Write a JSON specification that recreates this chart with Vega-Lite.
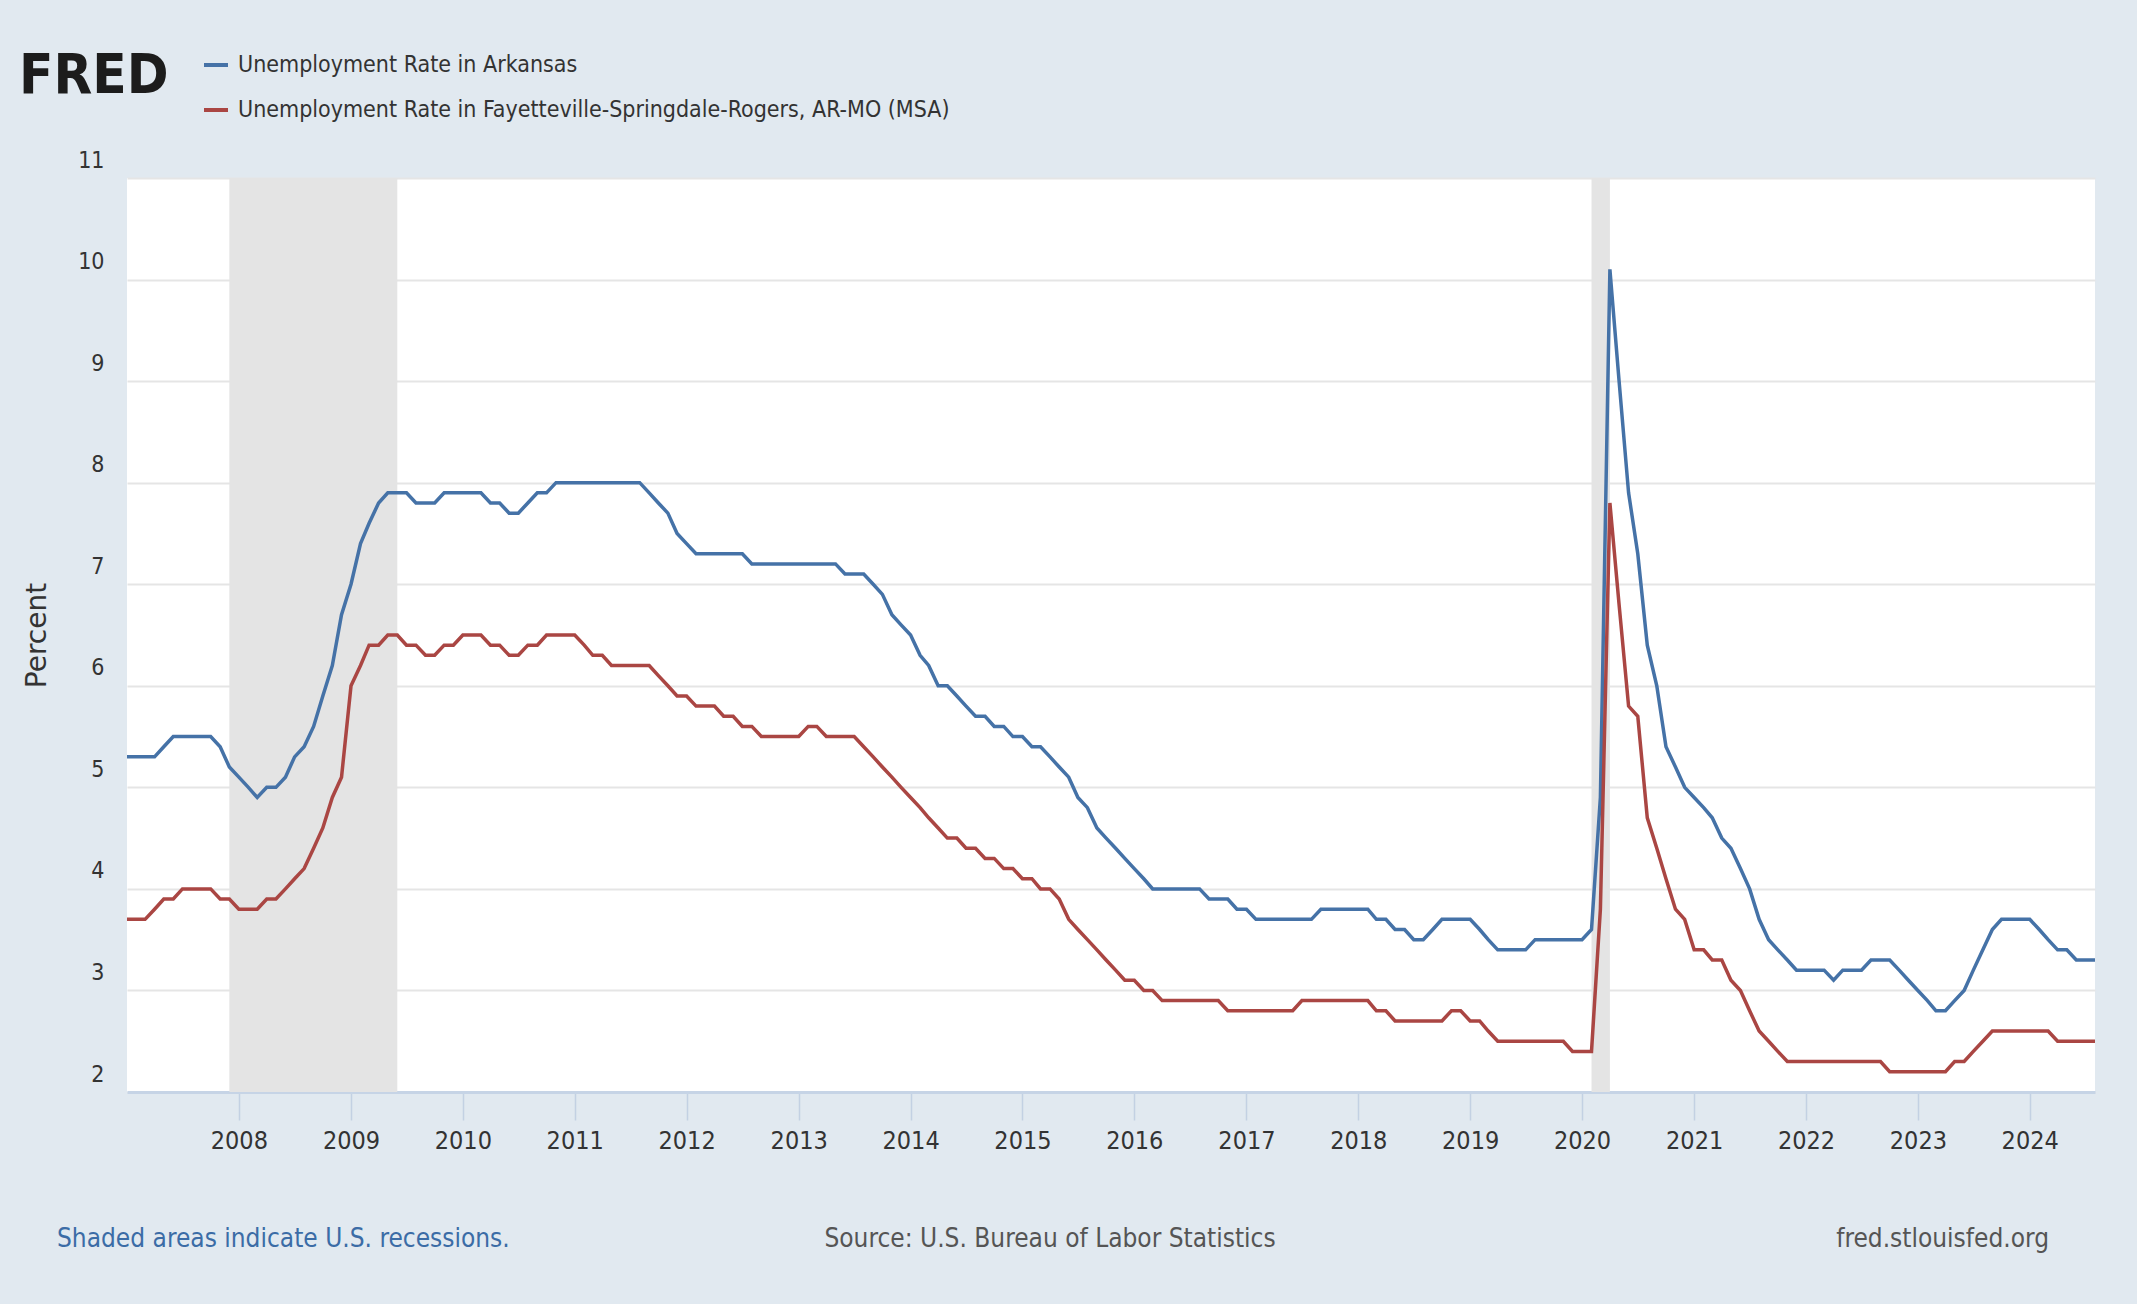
{
  "$schema": "https://vega.github.io/schema/vega-lite/v6.json",
  "width": 1968,
  "height": 914,
  "autosize": {"type": "none"},
  "padding": {"left": 127, "top": 178, "right": 42, "bottom": 212},
  "background": "#e1e9f0",
  "title": {
    "text": "FRED",
    "anchor": "start",
    "frame": "group",
    "orient": "top",
    "fontSize": 56,
    "fontWeight": "bold",
    "font": "DejaVu Sans Condensed, Liberation Sans, sans-serif",
    "color": "#1c1c1c",
    "dx": -108,
    "dy": 84,
    "offset": 30
  },
  "config": {
    "font": "DejaVu Sans Condensed, Liberation Sans, sans-serif",
    "view": {"fill": "white", "stroke": null}
  },
  "datasets": {
    "rates": [
      {"d":"2007-01-01","ar":5.3,"fsr":3.7},{"d":"2007-02-01","ar":5.3,"fsr":3.7},{"d":"2007-03-01","ar":5.3,"fsr":3.7},{"d":"2007-04-01","ar":5.3,"fsr":3.8},{"d":"2007-05-01","ar":5.4,"fsr":3.9},{"d":"2007-06-01","ar":5.5,"fsr":3.9},{"d":"2007-07-01","ar":5.5,"fsr":4.0},{"d":"2007-08-01","ar":5.5,"fsr":4.0},{"d":"2007-09-01","ar":5.5,"fsr":4.0},{"d":"2007-10-01","ar":5.5,"fsr":4.0},{"d":"2007-11-01","ar":5.4,"fsr":3.9},{"d":"2007-12-01","ar":5.2,"fsr":3.9},
      {"d":"2008-01-01","ar":5.1,"fsr":3.8},{"d":"2008-02-01","ar":5.0,"fsr":3.8},{"d":"2008-03-01","ar":4.9,"fsr":3.8},{"d":"2008-04-01","ar":5.0,"fsr":3.9},{"d":"2008-05-01","ar":5.0,"fsr":3.9},{"d":"2008-06-01","ar":5.1,"fsr":4.0},{"d":"2008-07-01","ar":5.3,"fsr":4.1},{"d":"2008-08-01","ar":5.4,"fsr":4.2},{"d":"2008-09-01","ar":5.6,"fsr":4.4},{"d":"2008-10-01","ar":5.9,"fsr":4.6},{"d":"2008-11-01","ar":6.2,"fsr":4.9},{"d":"2008-12-01","ar":6.7,"fsr":5.1},
      {"d":"2009-01-01","ar":7.0,"fsr":6.0},{"d":"2009-02-01","ar":7.4,"fsr":6.2},{"d":"2009-03-01","ar":7.6,"fsr":6.4},{"d":"2009-04-01","ar":7.8,"fsr":6.4},{"d":"2009-05-01","ar":7.9,"fsr":6.5},{"d":"2009-06-01","ar":7.9,"fsr":6.5},{"d":"2009-07-01","ar":7.9,"fsr":6.4},{"d":"2009-08-01","ar":7.8,"fsr":6.4},{"d":"2009-09-01","ar":7.8,"fsr":6.3},{"d":"2009-10-01","ar":7.8,"fsr":6.3},{"d":"2009-11-01","ar":7.9,"fsr":6.4},{"d":"2009-12-01","ar":7.9,"fsr":6.4},
      {"d":"2010-01-01","ar":7.9,"fsr":6.5},{"d":"2010-02-01","ar":7.9,"fsr":6.5},{"d":"2010-03-01","ar":7.9,"fsr":6.5},{"d":"2010-04-01","ar":7.8,"fsr":6.4},{"d":"2010-05-01","ar":7.8,"fsr":6.4},{"d":"2010-06-01","ar":7.7,"fsr":6.3},{"d":"2010-07-01","ar":7.7,"fsr":6.3},{"d":"2010-08-01","ar":7.8,"fsr":6.4},{"d":"2010-09-01","ar":7.9,"fsr":6.4},{"d":"2010-10-01","ar":7.9,"fsr":6.5},{"d":"2010-11-01","ar":8.0,"fsr":6.5},{"d":"2010-12-01","ar":8.0,"fsr":6.5},
      {"d":"2011-01-01","ar":8.0,"fsr":6.5},{"d":"2011-02-01","ar":8.0,"fsr":6.4},{"d":"2011-03-01","ar":8.0,"fsr":6.3},{"d":"2011-04-01","ar":8.0,"fsr":6.3},{"d":"2011-05-01","ar":8.0,"fsr":6.2},{"d":"2011-06-01","ar":8.0,"fsr":6.2},{"d":"2011-07-01","ar":8.0,"fsr":6.2},{"d":"2011-08-01","ar":8.0,"fsr":6.2},{"d":"2011-09-01","ar":7.9,"fsr":6.2},{"d":"2011-10-01","ar":7.8,"fsr":6.1},{"d":"2011-11-01","ar":7.7,"fsr":6.0},{"d":"2011-12-01","ar":7.5,"fsr":5.9},
      {"d":"2012-01-01","ar":7.4,"fsr":5.9},{"d":"2012-02-01","ar":7.3,"fsr":5.8},{"d":"2012-03-01","ar":7.3,"fsr":5.8},{"d":"2012-04-01","ar":7.3,"fsr":5.8},{"d":"2012-05-01","ar":7.3,"fsr":5.7},{"d":"2012-06-01","ar":7.3,"fsr":5.7},{"d":"2012-07-01","ar":7.3,"fsr":5.6},{"d":"2012-08-01","ar":7.2,"fsr":5.6},{"d":"2012-09-01","ar":7.2,"fsr":5.5},{"d":"2012-10-01","ar":7.2,"fsr":5.5},{"d":"2012-11-01","ar":7.2,"fsr":5.5},{"d":"2012-12-01","ar":7.2,"fsr":5.5},
      {"d":"2013-01-01","ar":7.2,"fsr":5.5},{"d":"2013-02-01","ar":7.2,"fsr":5.6},{"d":"2013-03-01","ar":7.2,"fsr":5.6},{"d":"2013-04-01","ar":7.2,"fsr":5.5},{"d":"2013-05-01","ar":7.2,"fsr":5.5},{"d":"2013-06-01","ar":7.1,"fsr":5.5},{"d":"2013-07-01","ar":7.1,"fsr":5.5},{"d":"2013-08-01","ar":7.1,"fsr":5.4},{"d":"2013-09-01","ar":7.0,"fsr":5.3},{"d":"2013-10-01","ar":6.9,"fsr":5.2},{"d":"2013-11-01","ar":6.7,"fsr":5.1},{"d":"2013-12-01","ar":6.6,"fsr":5.0},
      {"d":"2014-01-01","ar":6.5,"fsr":4.9},{"d":"2014-02-01","ar":6.3,"fsr":4.8},{"d":"2014-03-01","ar":6.2,"fsr":4.7},{"d":"2014-04-01","ar":6.0,"fsr":4.6},{"d":"2014-05-01","ar":6.0,"fsr":4.5},{"d":"2014-06-01","ar":5.9,"fsr":4.5},{"d":"2014-07-01","ar":5.8,"fsr":4.4},{"d":"2014-08-01","ar":5.7,"fsr":4.4},{"d":"2014-09-01","ar":5.7,"fsr":4.3},{"d":"2014-10-01","ar":5.6,"fsr":4.3},{"d":"2014-11-01","ar":5.6,"fsr":4.2},{"d":"2014-12-01","ar":5.5,"fsr":4.2},
      {"d":"2015-01-01","ar":5.5,"fsr":4.1},{"d":"2015-02-01","ar":5.4,"fsr":4.1},{"d":"2015-03-01","ar":5.4,"fsr":4.0},{"d":"2015-04-01","ar":5.3,"fsr":4.0},{"d":"2015-05-01","ar":5.2,"fsr":3.9},{"d":"2015-06-01","ar":5.1,"fsr":3.7},{"d":"2015-07-01","ar":4.9,"fsr":3.6},{"d":"2015-08-01","ar":4.8,"fsr":3.5},{"d":"2015-09-01","ar":4.6,"fsr":3.4},{"d":"2015-10-01","ar":4.5,"fsr":3.3},{"d":"2015-11-01","ar":4.4,"fsr":3.2},{"d":"2015-12-01","ar":4.3,"fsr":3.1},
      {"d":"2016-01-01","ar":4.2,"fsr":3.1},{"d":"2016-02-01","ar":4.1,"fsr":3.0},{"d":"2016-03-01","ar":4.0,"fsr":3.0},{"d":"2016-04-01","ar":4.0,"fsr":2.9},{"d":"2016-05-01","ar":4.0,"fsr":2.9},{"d":"2016-06-01","ar":4.0,"fsr":2.9},{"d":"2016-07-01","ar":4.0,"fsr":2.9},{"d":"2016-08-01","ar":4.0,"fsr":2.9},{"d":"2016-09-01","ar":3.9,"fsr":2.9},{"d":"2016-10-01","ar":3.9,"fsr":2.9},{"d":"2016-11-01","ar":3.9,"fsr":2.8},{"d":"2016-12-01","ar":3.8,"fsr":2.8},
      {"d":"2017-01-01","ar":3.8,"fsr":2.8},{"d":"2017-02-01","ar":3.7,"fsr":2.8},{"d":"2017-03-01","ar":3.7,"fsr":2.8},{"d":"2017-04-01","ar":3.7,"fsr":2.8},{"d":"2017-05-01","ar":3.7,"fsr":2.8},{"d":"2017-06-01","ar":3.7,"fsr":2.8},{"d":"2017-07-01","ar":3.7,"fsr":2.9},{"d":"2017-08-01","ar":3.7,"fsr":2.9},{"d":"2017-09-01","ar":3.8,"fsr":2.9},{"d":"2017-10-01","ar":3.8,"fsr":2.9},{"d":"2017-11-01","ar":3.8,"fsr":2.9},{"d":"2017-12-01","ar":3.8,"fsr":2.9},
      {"d":"2018-01-01","ar":3.8,"fsr":2.9},{"d":"2018-02-01","ar":3.8,"fsr":2.9},{"d":"2018-03-01","ar":3.7,"fsr":2.8},{"d":"2018-04-01","ar":3.7,"fsr":2.8},{"d":"2018-05-01","ar":3.6,"fsr":2.7},{"d":"2018-06-01","ar":3.6,"fsr":2.7},{"d":"2018-07-01","ar":3.5,"fsr":2.7},{"d":"2018-08-01","ar":3.5,"fsr":2.7},{"d":"2018-09-01","ar":3.6,"fsr":2.7},{"d":"2018-10-01","ar":3.7,"fsr":2.7},{"d":"2018-11-01","ar":3.7,"fsr":2.8},{"d":"2018-12-01","ar":3.7,"fsr":2.8},
      {"d":"2019-01-01","ar":3.7,"fsr":2.7},{"d":"2019-02-01","ar":3.6,"fsr":2.7},{"d":"2019-03-01","ar":3.5,"fsr":2.6},{"d":"2019-04-01","ar":3.4,"fsr":2.5},{"d":"2019-05-01","ar":3.4,"fsr":2.5},{"d":"2019-06-01","ar":3.4,"fsr":2.5},{"d":"2019-07-01","ar":3.4,"fsr":2.5},{"d":"2019-08-01","ar":3.5,"fsr":2.5},{"d":"2019-09-01","ar":3.5,"fsr":2.5},{"d":"2019-10-01","ar":3.5,"fsr":2.5},{"d":"2019-11-01","ar":3.5,"fsr":2.5},{"d":"2019-12-01","ar":3.5,"fsr":2.4},
      {"d":"2020-01-01","ar":3.5,"fsr":2.4},{"d":"2020-02-01","ar":3.6,"fsr":2.4},{"d":"2020-03-01","ar":4.9,"fsr":3.8},{"d":"2020-04-01","ar":10.1,"fsr":7.8},{"d":"2020-05-01","ar":9.0,"fsr":6.8},{"d":"2020-06-01","ar":7.9,"fsr":5.8},{"d":"2020-07-01","ar":7.3,"fsr":5.7},{"d":"2020-08-01","ar":6.4,"fsr":4.7},{"d":"2020-09-01","ar":6.0,"fsr":4.4},{"d":"2020-10-01","ar":5.4,"fsr":4.1},{"d":"2020-11-01","ar":5.2,"fsr":3.8},{"d":"2020-12-01","ar":5.0,"fsr":3.7},
      {"d":"2021-01-01","ar":4.9,"fsr":3.4},{"d":"2021-02-01","ar":4.8,"fsr":3.4},{"d":"2021-03-01","ar":4.7,"fsr":3.3},{"d":"2021-04-01","ar":4.5,"fsr":3.3},{"d":"2021-05-01","ar":4.4,"fsr":3.1},{"d":"2021-06-01","ar":4.2,"fsr":3.0},{"d":"2021-07-01","ar":4.0,"fsr":2.8},{"d":"2021-08-01","ar":3.7,"fsr":2.6},{"d":"2021-09-01","ar":3.5,"fsr":2.5},{"d":"2021-10-01","ar":3.4,"fsr":2.4},{"d":"2021-11-01","ar":3.3,"fsr":2.3},{"d":"2021-12-01","ar":3.2,"fsr":2.3},
      {"d":"2022-01-01","ar":3.2,"fsr":2.3},{"d":"2022-02-01","ar":3.2,"fsr":2.3},{"d":"2022-03-01","ar":3.2,"fsr":2.3},{"d":"2022-04-01","ar":3.1,"fsr":2.3},{"d":"2022-05-01","ar":3.2,"fsr":2.3},{"d":"2022-06-01","ar":3.2,"fsr":2.3},{"d":"2022-07-01","ar":3.2,"fsr":2.3},{"d":"2022-08-01","ar":3.3,"fsr":2.3},{"d":"2022-09-01","ar":3.3,"fsr":2.3},{"d":"2022-10-01","ar":3.3,"fsr":2.2},{"d":"2022-11-01","ar":3.2,"fsr":2.2},{"d":"2022-12-01","ar":3.1,"fsr":2.2},
      {"d":"2023-01-01","ar":3.0,"fsr":2.2},{"d":"2023-02-01","ar":2.9,"fsr":2.2},{"d":"2023-03-01","ar":2.8,"fsr":2.2},{"d":"2023-04-01","ar":2.8,"fsr":2.2},{"d":"2023-05-01","ar":2.9,"fsr":2.3},{"d":"2023-06-01","ar":3.0,"fsr":2.3},{"d":"2023-07-01","ar":3.2,"fsr":2.4},{"d":"2023-08-01","ar":3.4,"fsr":2.5},{"d":"2023-09-01","ar":3.6,"fsr":2.6},{"d":"2023-10-01","ar":3.7,"fsr":2.6},{"d":"2023-11-01","ar":3.7,"fsr":2.6},{"d":"2023-12-01","ar":3.7,"fsr":2.6},
      {"d":"2024-01-01","ar":3.7,"fsr":2.6},{"d":"2024-02-01","ar":3.6,"fsr":2.6},{"d":"2024-03-01","ar":3.5,"fsr":2.6},{"d":"2024-04-01","ar":3.4,"fsr":2.5},{"d":"2024-05-01","ar":3.4,"fsr":2.5},{"d":"2024-06-01","ar":3.3,"fsr":2.5},{"d":"2024-07-01","ar":3.3,"fsr":2.5},{"d":"2024-08-01","ar":3.3,"fsr":2.5}
    ],
    "recessions": [
      {"start": "2007-12-01", "end": "2009-06-01"},
      {"start": "2020-02-01", "end": "2020-04-01"}
    ],
    "notes": [{"note": "footer"}]
  },
  "layer": [
    {
      "data": {"name": "recessions"},
      "mark": {"type": "rect", "color": "#e4e4e4"},
      "encoding": {
        "x": {"field": "start", "type": "temporal", "scale": {"type": "utc", "domain": [{"year": 2007, "month": 1, "date": 1, "utc": true}, {"year": 2024, "month": 8, "date": 1, "utc": true}]},
          "axis": {"title": null, "format": "%Y", "formatType": "utc",
            "values": [
              {"year": 2008, "month": 1, "date": 1, "utc": true}, {"year": 2009, "month": 1, "date": 1, "utc": true},
              {"year": 2010, "month": 1, "date": 1, "utc": true}, {"year": 2011, "month": 1, "date": 1, "utc": true},
              {"year": 2012, "month": 1, "date": 1, "utc": true}, {"year": 2013, "month": 1, "date": 1, "utc": true},
              {"year": 2014, "month": 1, "date": 1, "utc": true}, {"year": 2015, "month": 1, "date": 1, "utc": true},
              {"year": 2016, "month": 1, "date": 1, "utc": true}, {"year": 2017, "month": 1, "date": 1, "utc": true},
              {"year": 2018, "month": 1, "date": 1, "utc": true}, {"year": 2019, "month": 1, "date": 1, "utc": true},
              {"year": 2020, "month": 1, "date": 1, "utc": true}, {"year": 2021, "month": 1, "date": 1, "utc": true},
              {"year": 2022, "month": 1, "date": 1, "utc": true}, {"year": 2023, "month": 1, "date": 1, "utc": true},
              {"year": 2024, "month": 1, "date": 1, "utc": true}
            ],
            "grid": false,
            "domainColor": "#c6d4e6", "domainWidth": 3, "tickColor": "#c3d1e3", "tickSize": 28, "tickWidth": 1.5,
            "labelFontSize": 25, "labelColor": "#333333", "labelPadding": 8, "labelFlush": false}},
        "x2": {"field": "end"},
        "y": {"datum": 11, "type": "quantitative", "scale": {"domain": [2, 11], "nice": false, "zero": false},
          "axis": {"title": "Percent", "values": [2, 3, 4, 5, 6, 7, 8, 9, 10, 11], "format": "d", "grid": true, "gridColor": "#e5e5e5", "gridWidth": 2,
            "domain": false, "ticks": false, "labelFontSize": 23, "labelColor": "#333333", "labelPadding": 23, "labelOffset": -18,
            "titleFont": "DejaVu Sans", "titleFontSize": 28, "titleFontWeight": "normal", "titleColor": "#333333", "titlePadding": 26}},
        "y2": {"datum": 2}
      }
    },
    {
      "data": {"name": "rates"},
      "transform": [{"fold": ["ar", "fsr"], "as": ["series", "rate"]}],
      "mark": {"type": "line", "strokeWidth": 3.5},
      "encoding": {
        "x": {"field": "d", "type": "temporal", "scale": {"type": "utc"}},
        "y": {"field": "rate", "type": "quantitative"},
        "color": {"field": "series", "type": "nominal",
          "scale": {"domain": ["ar", "fsr"], "range": ["#4572a7", "#aa4643"]},
          "legend": {"orient": "none", "legendX": 75, "legendY": -127, "direction": "vertical", "title": null,
            "symbolType": "stroke", "symbolSize": 576, "symbolStrokeWidth": 4, "labelFontSize": 23, "labelColor": "#333333",
            "rowPadding": 19, "labelOffset": 8, "labelLimit": 0,
            "labelExpr": "datum.value == 'ar' ? 'Unemployment Rate in Arkansas' : 'Unemployment Rate in Fayetteville-Springdale-Rogers, AR-MO (MSA)'"}}
      }
    },
    {
      "data": {"name": "notes"},
      "mark": {"type": "text", "align": "left", "baseline": "middle", "dx": -70, "dy": 147, "fontSize": 26, "color": "#3b6ca6"},
      "encoding": {
        "x": {"datum": {"year": 2007, "month": 1, "date": 1, "utc": true}, "type": "temporal", "scale": {"type": "utc"}},
        "y": {"datum": 2, "type": "quantitative"},
        "text": {"value": "Shaded areas indicate U.S. recessions."}
      }
    },
    {
      "data": {"name": "notes"},
      "mark": {"type": "text", "align": "center", "baseline": "middle", "dy": 147, "fontSize": 26, "color": "#555555"},
      "encoding": {
        "x": {"datum": {"year": 2015, "month": 4, "date": 1, "utc": true}, "type": "temporal", "scale": {"type": "utc"}},
        "y": {"datum": 2, "type": "quantitative"},
        "text": {"value": "Source: U.S. Bureau of Labor Statistics"}
      }
    },
    {
      "data": {"name": "notes"},
      "mark": {"type": "text", "align": "right", "baseline": "middle", "dx": -46, "dy": 147, "fontSize": 26, "color": "#555555"},
      "encoding": {
        "x": {"datum": {"year": 2024, "month": 8, "date": 1, "utc": true}, "type": "temporal", "scale": {"type": "utc"}},
        "y": {"datum": 2, "type": "quantitative"},
        "text": {"value": "fred.stlouisfed.org"}
      }
    }
  ]
}
